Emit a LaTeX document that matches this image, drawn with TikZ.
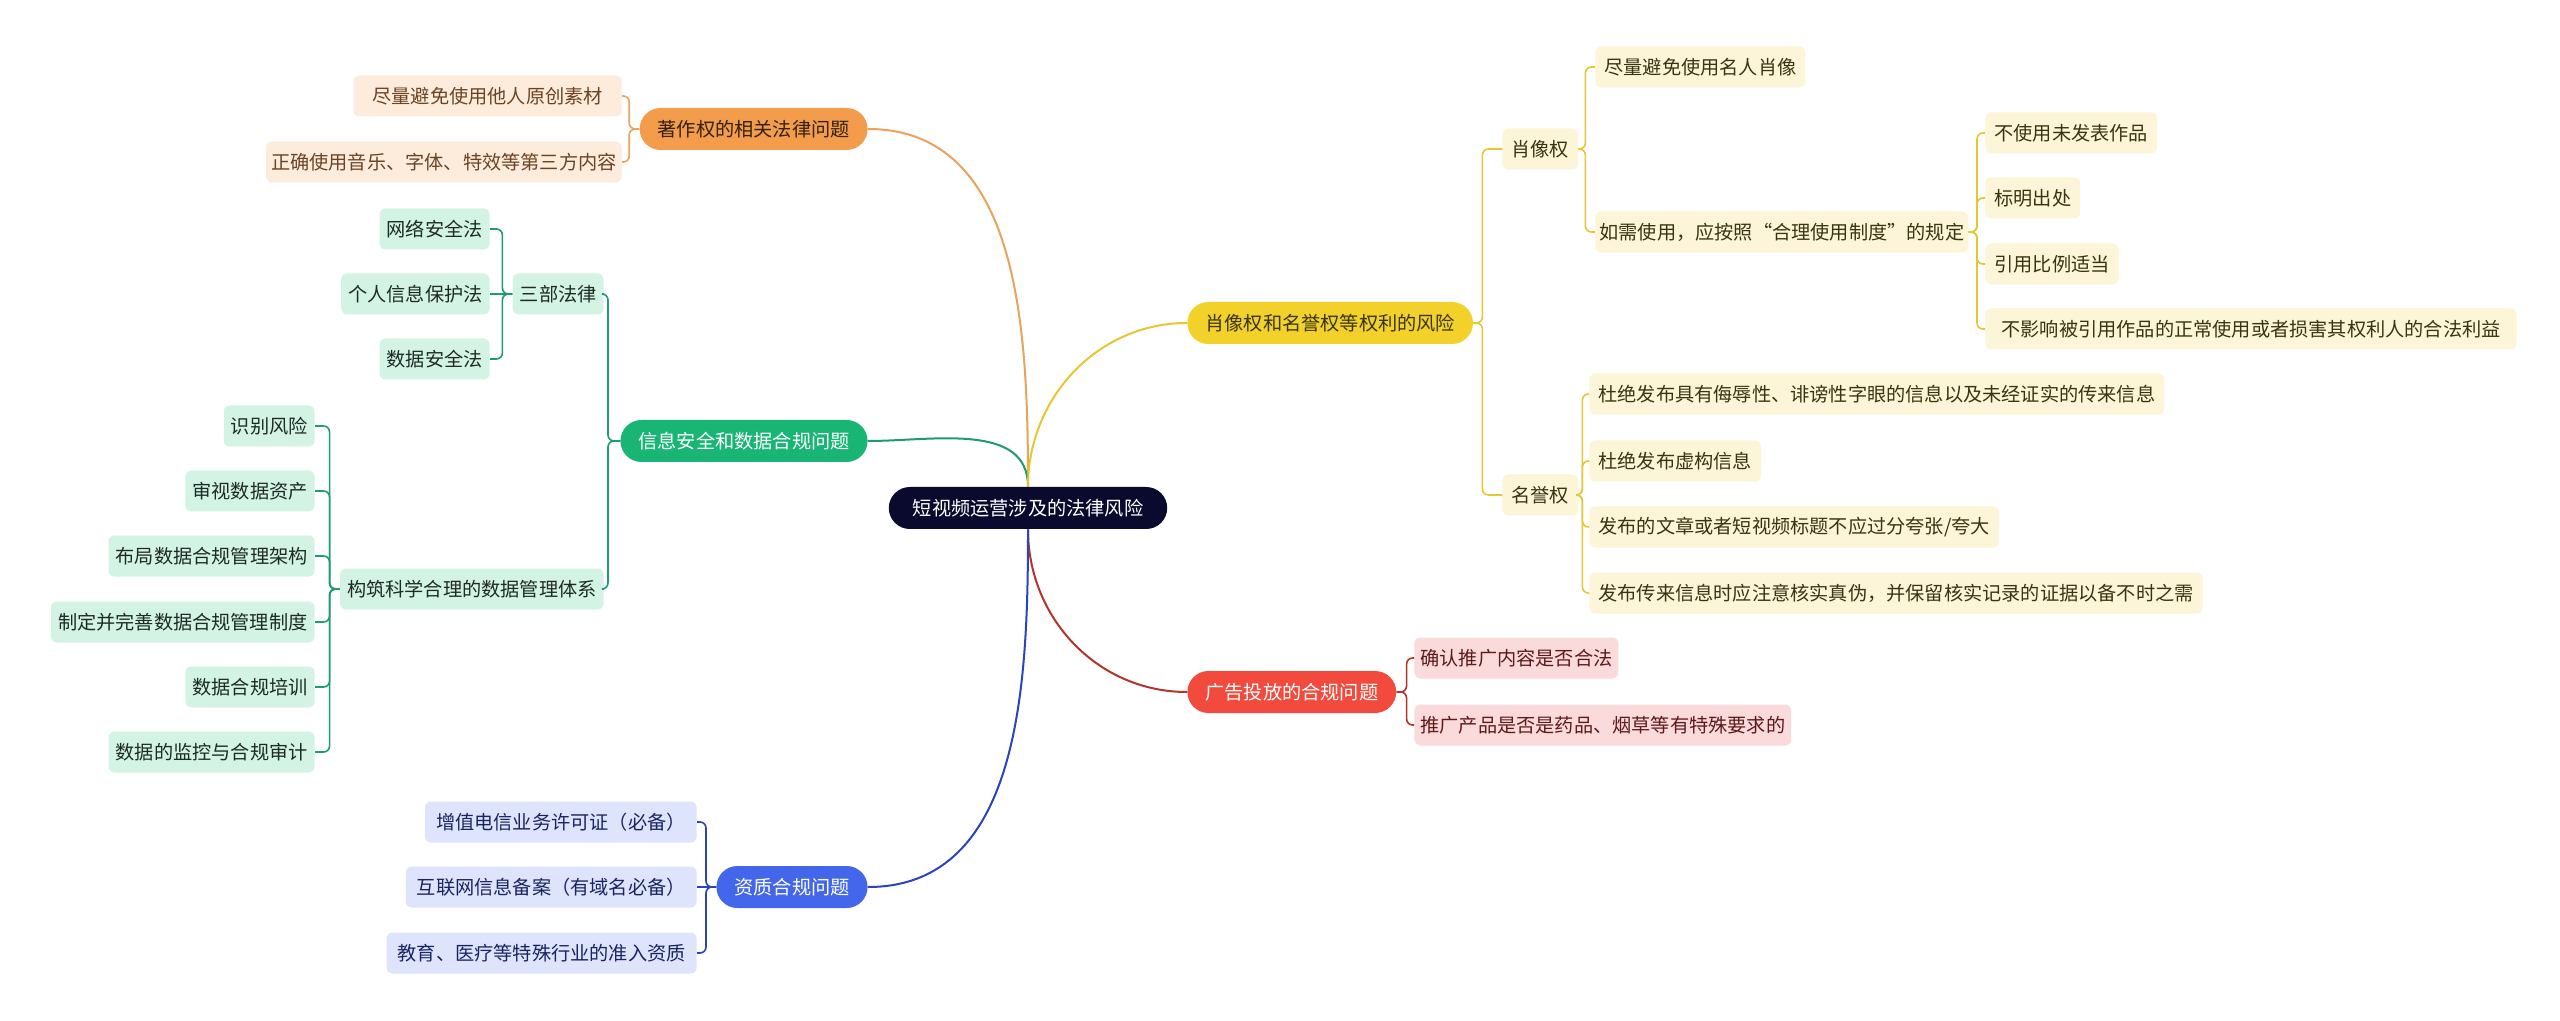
\documentclass[tikz,border=0pt]{standalone}
\usepackage{fontspec}
\setmainfont{Noto Sans CJK SC}
\usepackage{tikz}
\definecolor{rootnavy}{HTML}{0A0A2E}
\definecolor{cpyorange}{HTML}{F39C4C}
\definecolor{cpypeach}{HTML}{FDEBDC}
\definecolor{cpybrown}{HTML}{6B4423}
\definecolor{cpytext}{HTML}{33200F}
\definecolor{cpyline}{HTML}{E8A35C}
\definecolor{secgreen}{HTML}{18B574}
\definecolor{secmint}{HTML}{D3F3E5}
\definecolor{sectext}{HTML}{1E2B25}
\definecolor{secline}{HTML}{1E9B6F}
\definecolor{quablue}{HTML}{4466EA}
\definecolor{qualav}{HTML}{DDE4FB}
\definecolor{quatext}{HTML}{1B2463}
\definecolor{qualine}{HTML}{2B44B8}
\definecolor{rgtyellow}{HTML}{F2D12B}
\definecolor{rgtcream}{HTML}{FCF5D7}
\definecolor{rgttext}{HTML}{3A3412}
\definecolor{rgtline}{HTML}{E6C733}
\definecolor{adred}{HTML}{F24A3D}
\definecolor{adpink}{HTML}{FADADB}
\definecolor{adtext}{HTML}{5E1A1A}
\definecolor{adline}{HTML}{B3342A}

\begin{document}
\begin{tikzpicture}[
  x=0.5pt, y=-0.5pt,
  font=\fontsize{9.6}{11}\selectfont,
  root/.style={rectangle, rounded corners=10.5pt, fill=rootnavy, text=white,
               minimum height=21pt, inner xsep=12pt},
  topic/.style={rectangle, rounded corners=10.5pt, minimum height=21pt, inner xsep=9pt},
  leaf/.style={rectangle, rounded corners=3pt, minimum height=20.5pt, inner xsep=4.5pt},
  oleaf/.style={leaf, fill=cpypeach, text=cpybrown, anchor=east, inner xsep=2.5pt},
  gleaf/.style={leaf, fill=secmint, text=sectext, anchor=east, inner xsep=3.5pt},
  bleaf/.style={leaf, fill=qualav, text=quatext, anchor=east, inner xsep=5.5pt},
  yleaf/.style={leaf, fill=rgtcream, text=rgttext, anchor=west},
  rleaf/.style={leaf, fill=adpink, text=adtext, anchor=west, inner xsep=3pt},
  curve/.style={line width=1pt},
  link/.style={line width=0.8pt, rounded corners=3pt},
]
\fill[white] (0,0) rectangle (2560,1021);
\useasboundingbox (0,0) rectangle (2560,1021);

\node[root] (root) at (1028,508) {短视频运营涉及的法律风险};

\node[topic, fill=cpyorange, text=cpytext, anchor=east] (cpy) at (868,129) {著作权的相关法律问题};
\node[oleaf, minimum width=134pt] (cpy1) at (622,96) {尽量避免使用他人原创素材};
\node[oleaf] (cpy2) at (622,162) {正确使用音乐、字体、特效等第三方内容};

\node[topic, fill=secgreen, text=white, anchor=east] (sec) at (868,441) {信息安全和数据合规问题};
\node[gleaf] (law) at (604,294) {三部法律};
\node[gleaf] (law1) at (490,229) {网络安全法};
\node[gleaf] (law2) at (490,294) {个人信息保护法};
\node[gleaf] (law3) at (490,359) {数据安全法};
\node[gleaf] (sys) at (604,589) {构筑科学合理的数据管理体系};
\node[gleaf] (sys1) at (315,426) {识别风险};
\node[gleaf] (sys2) at (315,491) {审视数据资产};
\node[gleaf] (sys3) at (315,556) {布局数据合规管理架构};
\node[gleaf] (sys4) at (315,622) {制定并完善数据合规管理制度};
\node[gleaf] (sys5) at (315,687) {数据合规培训};
\node[gleaf] (sys6) at (315,752) {数据的监控与合规审计};

\node[topic, fill=quablue, text=white, anchor=east] (qua) at (868,887) {资质合规问题};
\node[bleaf] (qua1) at (697,822) {增值电信业务许可证（必备）};
\node[bleaf] (qua2) at (697,887) {互联网信息备案（有域名必备）};
\node[bleaf] (qua3) at (697,953) {教育、医疗等特殊行业的准入资质};

\node[topic, fill=rgtyellow, text=rgttext, anchor=west] (rgt) at (1187,323) {肖像权和名誉权等权利的风险};
\node[yleaf] (por) at (1502,149) {肖像权};
\node[yleaf] (por1) at (1595,67) {尽量避免使用名人肖像};
\node[yleaf, inner xsep=2pt] (por2) at (1595,232) {如需使用，应按照“合理使用制度”的规定};
\node[yleaf] (fair1) at (1985,133) {不使用未发表作品};
\node[yleaf] (fair2) at (1985,198) {标明出处};
\node[yleaf] (fair3) at (1985,264) {引用比例适当};
\node[yleaf, inner xsep=8pt] (fair4) at (1985,329) {不影响被引用作品的正常使用或者损害其权利人的合法利益};
\node[yleaf] (rep) at (1502,495) {名誉权};
\node[yleaf] (rep1) at (1589,394) {杜绝发布具有侮辱性、诽谤性字眼的信息以及未经证实的传来信息};
\node[yleaf] (rep2) at (1589,461) {杜绝发布虚构信息};
\node[yleaf] (rep3) at (1589,527) {发布的文章或者短视频标题不应过分夸张/夸大};
\node[yleaf] (rep4) at (1589,593) {发布传来信息时应注意核实真伪，并保留核实记录的证据以备不时之需};

\node[topic, fill=adred, text=white, anchor=west] (ad) at (1187,692) {广告投放的合规问题};
\node[rleaf] (ad1) at (1414,658) {确认推广内容是否合法};
\node[rleaf] (ad2) at (1414,725) {推广产品是否是药品、烟草等有特殊要求的};

\draw[curve, cpyline] (root.north) to[out=90, in=0] (cpy.east);
\draw[curve, secline] (root.north) to[out=90, in=0] (sec.east);
\draw[curve, rgtline] (root.north) to[out=90, in=180] (rgt.west);
\draw[curve, adline] (root.south) to[out=-90, in=180] (ad.west);
\draw[curve, qualine] (root.south) to[out=-90, in=0] (qua.east);

\draw[link, cpyline] (cpy.west) -- ++(-10,0) |- (cpy1.east);
\draw[link, cpyline] (cpy.west) -- ++(-10,0) |- (cpy2.east);

\draw[link, secline] (sec.west) -- ++(-12,0) |- (law.east);
\draw[link, secline] (sec.west) -- ++(-12,0) |- (sys.east);
\draw[link, secline] (law.west) -- ++(-10,0) |- (law1.east);
\draw[link, secline] (law.west) -- (law2.east);
\draw[link, secline] (law.west) -- ++(-10,0) |- (law3.east);
\draw[link, secline] (sys.west) -- ++(-10,0) |- (sys1.east);
\draw[link, secline] (sys.west) -- ++(-10,0) |- (sys2.east);
\draw[link, secline] (sys.west) -- ++(-10,0) |- (sys3.east);
\draw[link, secline] (sys.west) -- ++(-10,0) |- (sys4.east);
\draw[link, secline] (sys.west) -- ++(-10,0) |- (sys5.east);
\draw[link, secline] (sys.west) -- ++(-10,0) |- (sys6.east);

\draw[link, qualine] (qua.west) -- ++(-10,0) |- (qua1.east);
\draw[link, qualine] (qua.west) -- (qua2.east);
\draw[link, qualine] (qua.west) -- ++(-10,0) |- (qua3.east);

\draw[link, rgtline] (rgt.east) -- ++(9,0) |- (por.west);
\draw[link, rgtline] (rgt.east) -- ++(9,0) |- (rep.west);
\draw[link, rgtline] (por.east) -- ++(7,0) |- (por1.west);
\draw[link, rgtline] (por.east) -- ++(7,0) |- (por2.west);
\draw[link, rgtline] (fair1.west) -- ++(-8,0) |- (por2.east);
\draw[link, rgtline] (fair2.west) -- ++(-8,0) |- (por2.east);
\draw[link, rgtline] (fair3.west) -- ++(-8,0) |- (por2.east);
\draw[link, rgtline] (fair4.west) -- ++(-8,0) |- (por2.east);
\draw[link, rgtline] (rep.east) -- ++(4,0) |- (rep1.west);
\draw[link, rgtline] (rep.east) -- ++(4,0) |- (rep2.west);
\draw[link, rgtline] (rep.east) -- ++(4,0) |- (rep3.west);
\draw[link, rgtline] (rep.east) -- ++(4,0) |- (rep4.west);

\draw[link, adline] (ad.east) -- ++(10,0) |- (ad1.west);
\draw[link, adline] (ad.east) -- ++(10,0) |- (ad2.west);
\end{tikzpicture}
\end{document}
